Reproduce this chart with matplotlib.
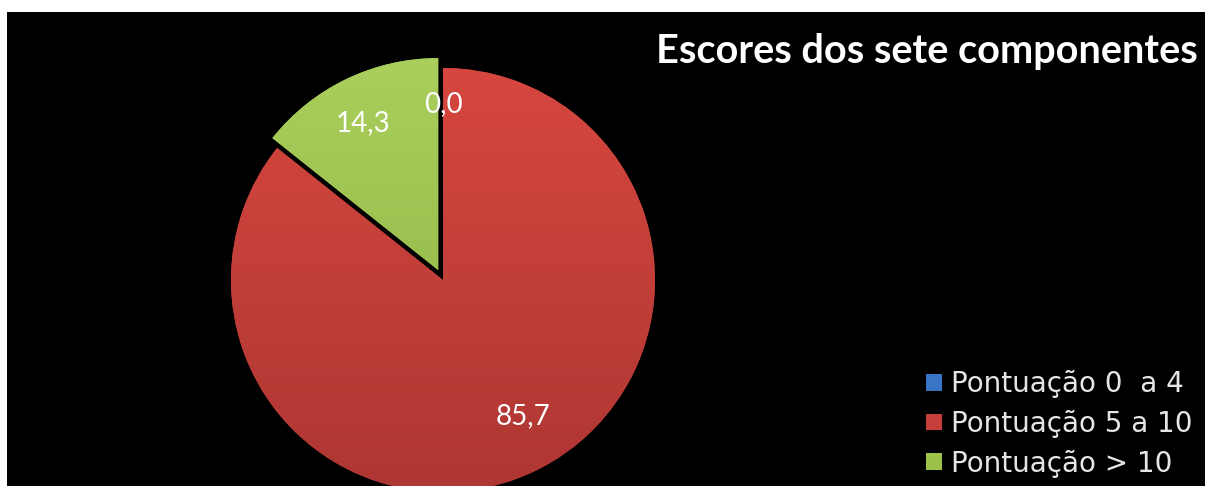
import numpy as np
import matplotlib
matplotlib.use("Agg")
import matplotlib.pyplot as plt
from matplotlib.patches import Rectangle
from matplotlib.colors import LinearSegmentedColormap

# data
categories = ["Pontuação 0  a 4", "Pontuação 5 a 10", "Pontuação > 10"]
values = [0.0, 85.7, 14.3]
value_labels = ["0,0", "85,7", "14,3"]
title = "Escores dos sete componentes"

# style
base_colors = ["#3A74C4", "#C63E3A", "#9CC24A"]
light_colors = ["#5A92DE", "#D6473F", "#AACF5C"]
dark_colors = ["#2A5CA0", "#AE3633", "#8BB142"]
explode_px = [0, 0, 11]          # pie() explode is in data units (= pixels here)
label_dist = [0.83, 0.74, 0.77]
label_shift = [(0, 0), (12, 5), (-4, 0)]

W, H = 1205, 486
fig = plt.figure(figsize=(W / 100, H / 100), dpi=100, facecolor="white")
fig.patches.append(Rectangle((7 / W, 0), 1, (H - 12) / H, transform=fig.transFigure,
                             facecolor="black", edgecolor="none", zorder=-10))

ax = fig.add_axes([0, 0, 1, 1])
ax.patch.set_visible(False)

cx, cy, R = 443, H - 280, 212
wedges, _ = ax.pie(values, colors=base_colors, explode=explode_px, startangle=90,
                   counterclock=False, center=(cx, cy), radius=R,
                   wedgeprops=dict(linewidth=0))
ax.set_xlim(0, W)
ax.set_ylim(0, H)
ax.set_aspect("equal")
ax.axis("off")

# vertical gradient inside each wedge for the shaded look
grad = np.linspace(0, 1, 256).reshape(-1, 1)
for w, c0, c1 in zip(wedges, dark_colors, light_colors):
    if w.theta2 - w.theta1 <= 0:
        continue
    cmap = LinearSegmentedColormap.from_list("g", [c0, c1])
    wx, wy = w.center
    im = ax.imshow(grad, cmap=cmap, origin="lower", aspect="auto",
                   extent=(wx - R, wx + R, wy - R, wy + R), zorder=2)
    im.set_clip_path(w)

# data labels
for w, lab, d, (sx, sy) in zip(wedges, value_labels, label_dist, label_shift):
    ang = np.deg2rad((w.theta1 + w.theta2) / 2)
    wx, wy = w.center
    ax.text(wx + d * R * np.cos(ang) + sx, wy + d * R * np.sin(ang) + sy, lab,
            color="white", fontsize=20, family="Lato", ha="center", va="center",
            zorder=5)

fig.text(1198 / W, 1 - 51 / H, title, color="white", fontsize=28.5, family="Lato",
         fontweight="bold", ha="right", va="center")

leg = fig.legend(wedges, categories, loc="lower left",
                 bbox_to_anchor=(907 / W, -11 / H), frameon=False,
                 labelcolor="#E6E6E6", handlelength=0.55,
                 handleheight=0.55, handletextpad=0.35, labelspacing=0.42,
                 borderpad=0.2, prop={"family": "DejaVu Sans", "size": 20})

fig.savefig("out.png", dpi=100, facecolor="white")
